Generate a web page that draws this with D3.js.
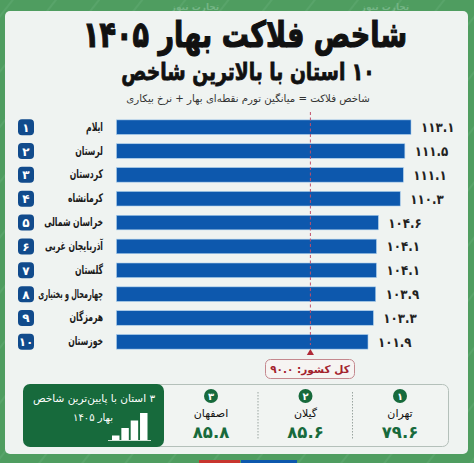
<!DOCTYPE html>
<html lang="fa">
<head>
<meta charset="utf-8">
<script src="https://cdn.jsdelivr.net/npm/d3@7"></script>
<style>
  html, body { margin: 0; padding: 0; background: #4f9d60; }
  svg { display: block; }
  text { font-family: "DejaVu Sans", sans-serif; direction: rtl; }
</style>
</head>
<body>
<script>
const w = 474;
const h = 463;

const provinces = ["ایلام", "لرستان", "کردستان", "کرمانشاه", "خراسان شمالی",
                   "آذربایجان غربی", "گلستان", "چهارمحال و بختیاری", "هرمزگان", "خوزستان"];
const misery = [113.1, 111.5, 111.1, 110.3, 104.6, 104.1, 104.1, 103.9, 103.3, 101.9];
const lowProvinces = ["تهران", "گیلان", "اصفهان"];
const lowValues = [79.6, 85.6, 85.8];
const iconLevels = [1, 2, 3, 4];

const countryValue = 90.0;
// the original draws its marker left of where 90 falls on the bars' own scale
const countryMarkerPos = 86.9;

const blue = "#0d58ad";
const navy = "#114b8c";
const darkGreen = "#176a3c";
const red = "#b02a37";
const ink = "#111";

const fa = function(v) {
  return String(v).replace(/\d/g, d => "۰۱۲۳۴۵۶۷۸۹"[d]);
};
const oneDec = v => fa(v.toFixed(1));

// DejaVu runs much wider than the original's face, so squeeze it sideways
const place = function(px, py, sx) {
  return "translate(" + px + "," + py + ") scale(" + sx + ",1)";
};

const svg = d3.select("body")
              .append("svg")
              .attr("width", w)
              .attr("height", h);

// green backdrop
const hatch = svg.append("defs").append("pattern")
    .attr("id", "hatch")
    .attr("width", 34)
    .attr("height", 34)
    .attr("patternUnits", "userSpaceOnUse")
    .attr("patternTransform", "rotate(-52)");
hatch.append("line")
    .attr("x1", 0).attr("x2", 34).attr("y1", 10).attr("y2", 10)
    .attr("stroke", "#62ab73").attr("stroke-width", 1);

svg.append("rect").attr("width", w).attr("height", h).attr("fill", "#4f9d60");
svg.append("rect").attr("width", w).attr("height", h).attr("fill", "url(#hatch)");

svg.selectAll(".mark")
   .data([195, 385])
   .enter()
   .append("text")
   .attr("class", "mark")
   .attr("x", d => d)
   .attr("y", 10)
   .attr("text-anchor", "middle")
   .attr("font-size", 9)
   .attr("font-weight", "bold")
   .attr("fill", "#74b585")
   .text("تجارت نیوز");

// footer strips
svg.append("rect").attr("x", 199).attr("y", 460).attr("width", 41).attr("height", 3).attr("fill", "#c8352f");
svg.append("rect").attr("x", 241).attr("y", 460).attr("width", 56).attr("height", 3).attr("fill", "#0d58ad");

// card
svg.append("rect")
   .attr("x", 5).attr("y", 11)
   .attr("width", 463).attr("height", 443)
   .attr("rx", 5)
   .attr("fill", "#eff3f1");

svg.append("text")
   .attr("transform", place(245, 47, 0.752))
   .attr("text-anchor", "middle")
   .attr("font-size", 36)
   .attr("font-weight", "bold")
   .attr("stroke", ink).attr("stroke-width", 1.2)
   .attr("fill", ink)
   .text("شاخص فلاکت بهار ۱۴۰۵");

svg.append("text")
   .attr("transform", place(248, 80, 0.78))
   .attr("text-anchor", "middle")
   .attr("font-size", 24)
   .attr("font-weight", "bold")
   .attr("stroke", ink).attr("stroke-width", 0.8)
   .attr("fill", ink)
   .text("۱۰ استان با بالاترین شاخص");

svg.append("text")
   .attr("x", 248).attr("y", 102)
   .attr("text-anchor", "middle")
   .attr("font-size", 10.2)
   .attr("fill", "#333")
   .text("شاخص فلاکت = میانگین تورم نقطه‌ای بهار + نرخ بیکاری");

// bars
const x = d3.scaleLinear()
            .domain([36.4, 113.1])
            .range([116.5, 411]);

const y = d3.scaleBand()
            .domain(provinces)
            .range([117.5, 351.5])
            .paddingInner(0.39)
            .paddingOuter(0.1);

const rows = svg.selectAll(".row")
   .data(provinces)
   .enter()
   .append("g")
   .attr("class", "row");

rows.append("rect")
    .attr("x", 116.5)
    .attr("y", d => y(d))
    .attr("width", (d, i) => x(misery[i]) - 116.5)
    .attr("height", y.bandwidth())
    .attr("fill", blue)
    .attr("stroke", "#a9cdec")
    .attr("stroke-width", 0.6);

rows.append("rect")
    .attr("x", 18)
    .attr("y", d => y(d) + y.bandwidth() / 2 - 8)
    .attr("width", 16)
    .attr("height", 16)
    .attr("rx", 4)
    .attr("fill", navy);

rows.append("text")
    .attr("x", 26)
    .attr("y", d => y(d) + y.bandwidth() / 2 + 4.5)
    .attr("text-anchor", "middle")
    .attr("font-size", 12)
    .attr("font-weight", "bold")
    .attr("fill", "#fff")
    .text((d, i) => fa(i + 1));

// rtl text: anchor "start" is the right-hand edge
rows.append("text")
    .attr("transform", d => place(103, y(d) + y.bandwidth() / 2 + 3.5, d.length > 15 ? 0.54 : 0.64))
    .attr("text-anchor", "start")
    .attr("font-size", 12)
    .attr("font-weight", "bold")
    .attr("fill", "#1a1a1a")
    .text(d => d);

rows.append("text")
    .attr("transform", (d, i) => place(x(misery[i]) + 10, y(d) + y.bandwidth() / 2 + 5, 0.88))
    .attr("text-anchor", "end")
    .attr("font-size", 13.5)
    .attr("font-weight", "bold")
    .attr("fill", "#222")
    .text((d, i) => oneDec(misery[i]));

// national marker
const mx = x(countryMarkerPos);

svg.append("line")
   .attr("x1", mx).attr("x2", mx)
   .attr("y1", 112).attr("y2", 345)
   .attr("stroke", "#c2506a")
   .attr("stroke-width", 1)
   .attr("stroke-dasharray", "3,2.5");

svg.append("path")
   .attr("d", d3.symbol(d3.symbolTriangle, 22))
   .attr("transform", "translate(" + mx + ",353)")
   .attr("fill", red);

svg.append("rect")
   .attr("x", 265.5).attr("y", 359.5)
   .attr("width", 89).attr("height", 19)
   .attr("rx", 5)
   .attr("fill", "#f6f4f2")
   .attr("stroke", "#c4888e");

svg.append("text")
   .attr("x", 310).attr("y", 373)
   .attr("text-anchor", "middle")
   .attr("font-size", 10.5)
   .attr("font-weight", "bold")
   .attr("fill", "#a3222c")
   .text("کل کشور: " + oneDec(countryValue));

// lowest three
svg.append("rect")
   .attr("x", 150.5).attr("y", 384.5)
   .attr("width", 298).attr("height", 62)
   .attr("rx", 6)
   .attr("fill", "#f1f4f2")
   .attr("stroke", "#b4c0ba");

const lowX = d3.scalePoint()
               .domain(lowProvinces)
               .range([400, 211]);

const lows = svg.selectAll(".low")
   .data(lowProvinces)
   .enter()
   .append("g")
   .attr("class", "low")
   .attr("transform", d => "translate(" + lowX(d) + ",0)");

lows.append("circle")
    .attr("cy", 396)
    .attr("r", 7)
    .attr("fill", darkGreen);

lows.append("text")
    .attr("y", 400)
    .attr("text-anchor", "middle")
    .attr("font-size", 10)
    .attr("font-weight", "bold")
    .attr("fill", "#fff")
    .text((d, i) => fa(i + 1));

lows.append("text")
    .attr("y", 417)
    .attr("text-anchor", "middle")
    .attr("font-size", 11)
    .attr("fill", ink)
    .text(d => d);

lows.append("text")
    .attr("y", 438)
    .attr("text-anchor", "middle")
    .attr("font-size", 16.5)
    .attr("font-weight", "bold")
    .attr("fill", darkGreen)
    .text((d, i) => oneDec(lowValues[i]));

svg.selectAll(".sep")
   .data([lowX(lowProvinces[0]) - 47.5, lowX(lowProvinces[1]) - 47.5])
   .enter()
   .append("line")
   .attr("class", "sep")
   .attr("x1", d => d).attr("x2", d => d)
   .attr("y1", 392).attr("y2", 439)
   .attr("stroke", "#9aa5a0")
   .attr("stroke-dasharray", "1.5,1.5");

// green box
svg.append("rect")
   .attr("x", 23).attr("y", 384)
   .attr("width", 141).attr("height", 63)
   .attr("rx", 7)
   .attr("fill", darkGreen);

svg.append("text")
   .attr("x", 94).attr("y", 402)
   .attr("text-anchor", "middle")
   .attr("font-size", 10.5)
   .attr("fill", "#fff")
   .text("۳ استان با پایین‌ترین شاخص");

svg.append("text")
   .attr("x", 93).attr("y", 421)
   .attr("text-anchor", "middle")
   .attr("font-size", 10)
   .attr("fill", "#fff")
   .text("بهار ۱۴۰۵");

const iconX = d3.scaleBand()
                .domain(iconLevels)
                .range([112, 147.5])
                .paddingInner(0.2);
const iconY = d3.scaleLinear()
                .domain([0, 4])
                .range([443, 413]);

svg.selectAll(".icon")
   .data(iconLevels)
   .enter()
   .append("rect")
   .attr("class", "icon")
   .attr("x", d => iconX(d))
   .attr("y", d => iconY(d))
   .attr("width", iconX.bandwidth())
   .attr("height", d => 440 - iconY(d))
   .attr("fill", "#fff");

svg.append("line")
   .attr("x1", 108).attr("x2", 151)
   .attr("y1", 440.5).attr("y2", 440.5)
   .attr("stroke", "#cfe3d6");
</script>
</body>
</html>
